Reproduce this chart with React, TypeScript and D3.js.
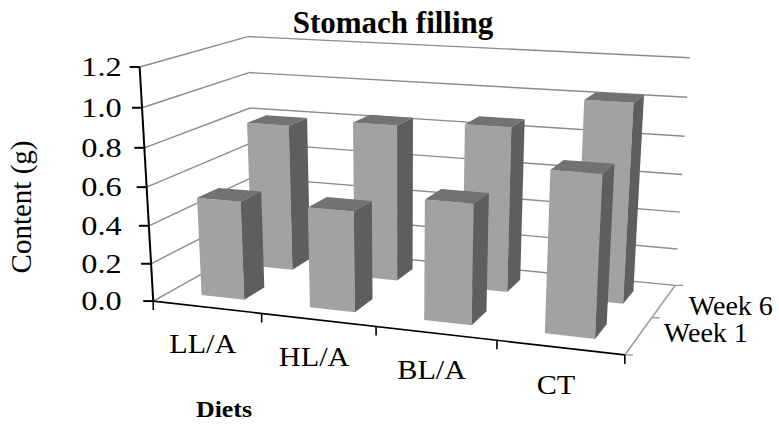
import React from 'react';
import * as d3 from 'd3';

const categories = ['LL/A', 'HL/A', 'BL/A', 'CT'];
const seriesNames = ['Week 1', 'Week 6'];
const week1 = [0.52, 0.52, 0.61, 0.8];
const week6 = [0.8, 0.84, 0.87, 1.03];
const valueTicks = [0, 0.2, 0.4, 0.6, 0.8, 1.0, 1.2];
const valueTickLabels = ['0.0', '0.2', '0.4', '0.6', '0.8', '1.0', '1.2'];
const chartTitle = 'Stomach filling';
const yTitle = 'Content (g)';
const xTitle = 'Diets';

const W = 779;
const H = 424;

// Calibration of the 3D box (world x: category 0..1, y: value 0..1, z: depth 0..1) to screen
const calib: number[][] = [
  [0, 0, 0, 153, 301],
  [0, 1, 0, 140, 68],
  [1, 0, 0, 625, 355],
  [1, 0, 1, 675, 286],
  [1, 1, 1, 690, 58],
  [0, 1, 1, 247, 36],
  [1, 5 / 6, 1, 687, 97],
  [0, 5 / 6, 1, 250, 73],
  [0, 5 / 6, 0, 141.5, 107],
  [0.25, 0, 0, 262, 313.5],
  [0.5, 0, 0, 376, 326.5],
  [0.75, 0, 0, 497, 340],
  [1, 0.5, 1, 682, 174],
];

function fitProjection(pts: number[][]) {
  const cx = 400, cy = 200, s = 300;
  const A: number[][] = [];
  const b: number[] = [];
  for (const [X, Y, Z, u0, v0] of pts) {
    const u = (u0 - cx) / s, v = (v0 - cy) / s;
    A.push([X, Y, Z, 1, 0, 0, 0, 0, -u * X, -u * Y, -u * Z]);
    b.push(u);
    A.push([0, 0, 0, 0, X, Y, Z, 1, -v * X, -v * Y, -v * Z]);
    b.push(v);
  }
  const n = 11;
  const M: number[][] = [];
  for (let i = 0; i < n; i++) {
    const row = new Array(n + 1).fill(0);
    for (let j = 0; j < n; j++) {
      let sum = 0;
      for (let k = 0; k < A.length; k++) sum += A[k][i] * A[k][j];
      row[j] = sum;
    }
    let sb = 0;
    for (let k = 0; k < A.length; k++) sb += A[k][i] * b[k];
    row[n] = sb;
    M.push(row);
  }
  for (let c = 0; c < n; c++) {
    let p = c;
    for (let r = c + 1; r < n; r++) if (Math.abs(M[r][c]) > Math.abs(M[p][c])) p = r;
    const tmp = M[c]; M[c] = M[p]; M[p] = tmp;
    for (let r = 0; r < n; r++) {
      if (r === c) continue;
      const f = M[r][c] / M[c][c];
      for (let k = c; k <= n; k++) M[r][k] -= f * M[c][k];
    }
  }
  const p = M.map((row, i) => row[n] / row[i]);
  return (X: number, Y: number, Z: number): [number, number] => {
    const w = p[8] * X + p[9] * Y + p[10] * Z + 1;
    return [
      ((p[0] * X + p[1] * Y + p[2] * Z + p[3]) / w) * s + cx,
      ((p[4] * X + p[5] * Y + p[6] * Z + p[7]) / w) * s + cy,
    ];
  };
}

const proj = fitProjection(calib);

const xScale = d3.scaleBand<string>().domain(categories).range([0, 1]).paddingInner(0.6).paddingOuter(0.3);
const zScale = d3.scaleBand<string>().domain(seriesNames).range([0, 1]).paddingInner(0.6).paddingOuter(0.3);
const yScale = d3.scaleLinear().domain([0, 1.2]).range([0, 1]);

const pts = (arr: number[][]) => arr.map(([x, y, z]) => proj(x, y, z).join(',')).join(' ');

const FONT = 'Liberation Serif';
const GRID = '#8c8c8c';

export default function App() {
  const seriesData = [week1, week6];
  const bars: { x0: number; x1: number; z0: number; z1: number; h: number; key: string }[] = [];
  // back row first, then front row
  for (let s = seriesNames.length - 1; s >= 0; s--) {
    categories.forEach((c, i) => {
      const x0 = xScale(c)!;
      const z0 = zScale(seriesNames[s])!;
      bars.push({ x0, x1: x0 + xScale.bandwidth(), z0, z1: z0 + zScale.bandwidth(), h: yScale(seriesData[s][i]), key: `${s}-${i}` });
    });
  }

  const line = (a: [number, number], b: [number, number], stroke: string, sw: number, key: string) => (
    <line key={key} x1={a[0]} y1={a[1]} x2={b[0]} y2={b[1]} stroke={stroke} strokeWidth={sw} />
  );

  const axisMidX = proj(0, 0.5, 0)[0];
  const ts = { fontFamily: FONT };

  return (
    <svg width={W} height={H} style={{ position: 'absolute', left: 0, top: 0, background: '#fff' }}>
      {valueTicks.map((v, i) => {
        const y = yScale(v);
        return (
          <g key={`g${i}`}>
            {line(proj(0, y, 0), proj(0, y, 1), GRID, 1.4, 'l')}
            {line(proj(0, y, 1), proj(1, y, 1), GRID, 1.4, 'b')}
          </g>
        );
      })}
      {line(proj(1, 0, 0), proj(1, 0, 1), '#9a9a9a', 1.6, 'depth')}
      {[0, 0.5, 1].map((z, i) => {
        const p = proj(1, 0, z);
        return line(p, [p[0] + 8, p[1]], '#9a9a9a', 1.4, `dt${i}`);
      })}

      {bars.map((b) => (
        <g key={b.key}>
          <polygon points={pts([[b.x0, 0, b.z0], [b.x1, 0, b.z0], [b.x1, b.h, b.z0], [b.x0, b.h, b.z0]])} fill="#a2a2a2" />
          <polygon points={pts([[b.x1, 0, b.z0], [b.x1, 0, b.z1], [b.x1, b.h, b.z1], [b.x1, b.h, b.z0]])} fill="#5e5e5e" />
          <polygon points={pts([[b.x0, b.h, b.z0], [b.x1, b.h, b.z0], [b.x1, b.h, b.z1], [b.x0, b.h, b.z1]])} fill="#727272" />
        </g>
      ))}

      {line(proj(0, 0, 0), proj(1, 0, 0), '#000', 1.6, 'xaxis')}
      {[0, 0.25, 0.5, 0.75, 1].map((x, i) => {
        const p = proj(x, 0, 0);
        return line(p, [p[0], p[1] + 9], '#000', 1.6, `xt${i}`);
      })}
      {line(proj(0, 0, 0), proj(0, 1, 0), '#000', 2, 'yaxis')}
      {valueTicks.map((v, i) => {
        const p = proj(0, yScale(v), 0);
        return line(p, [p[0] - 10, p[1]], '#000', 2, `yt${i}`);
      })}
      {valueTicks.map((v, i) => {
        const p = proj(0, yScale(v), 0);
        return (
          <text key={`yl${i}`} style={ts} transform={`translate(${axisMidX - 25},${p[1] + 9}) scale(1.22,1)`} textAnchor="end" fontSize={26.5} fill="#000">
            {valueTickLabels[i]}
          </text>
        );
      })}

      {categories.map((c, i) => {
        const p = proj(xScale(c)! + xScale.bandwidth() / 2, 0, 0);
        return (
          <text key={`cl${i}`} style={ts} transform={`translate(${p[0] - 4},${p[1] + 46}) scale(1.12,1)`} textAnchor="middle" fontSize={27} fill="#000">
            {c}
          </text>
        );
      })}

      {seriesNames.map((s, i) => {
        const zc = zScale(s)! + zScale.bandwidth() / 2;
        const p = proj(1, 0, zc);
        return (
          <text key={`sl${i}`} style={ts} x={p[0] + 25} y={p[1] + 10 + (zc - 0.5) * 16} fontSize={28} fill="#000">
            {s}
          </text>
        );
      })}

      <text style={ts} x={393} y={33} textAnchor="middle" fontSize={31} fontWeight="bold" fill="#000">{chartTitle}</text>
      <text style={ts} transform="translate(31,207) rotate(-90)" textAnchor="middle" fontSize={29} fill="#000">{yTitle}</text>
      <text style={ts} transform="translate(224,417) scale(1.08,1)" textAnchor="middle" fontSize={24} fontWeight="bold" fill="#000">{xTitle}</text>
    </svg>
  );
}
